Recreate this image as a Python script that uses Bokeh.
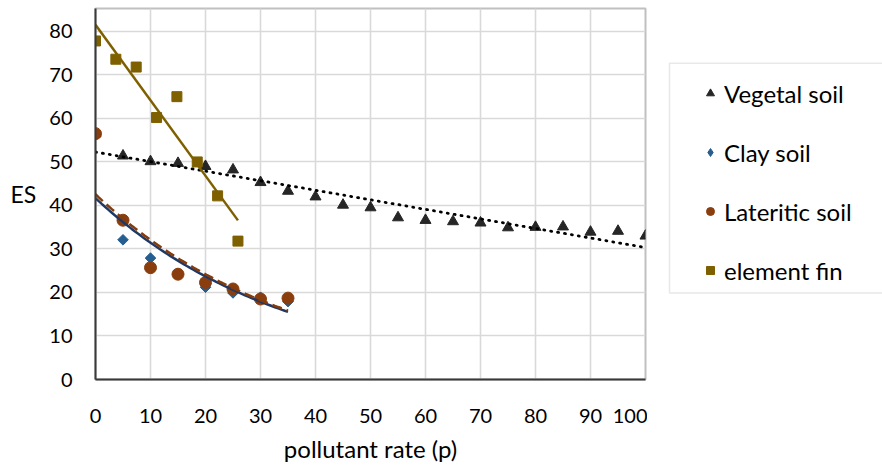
import numpy as np
from bokeh.plotting import figure
from bokeh.layouts import row
from bokeh.models import Range1d, FixedTicker, Legend, LegendItem, BoxAnnotation
from bokeh.embed import file_html
from bokeh.resources import INLINE

# ---- data ----
veg_x = [0, 5, 10, 15, 20, 25, 30, 35, 40, 45, 50, 55, 60, 65, 70, 75, 80, 85, 90, 95, 100]
veg_y = [56.5, 51.4, 50.1, 49.7, 49.0, 48.2, 45.3, 43.3, 42.0, 40.1, 39.5, 37.2, 36.6,
         36.3, 36.0, 34.9, 35.0, 35.1, 33.9, 34.1, 33.0]
clay_x = [0, 5, 10, 15, 20, 25, 30, 35]
clay_y = [56.5, 32.1, 27.9, 24.3, 21.2, 19.9, 18.9, 17.9]
lat_x = [0, 5, 10, 15, 20, 25, 30, 35]
lat_y = [56.5, 36.6, 25.7, 24.2, 22.3, 20.8, 18.5, 18.7]
fin_x = [0, 3.7, 7.4, 11.1, 14.8, 18.5, 22.2, 25.9]
fin_y = [77.8, 73.6, 71.8, 60.2, 65.0, 50.0, 42.2, 31.8]

x_ticks = [0, 10, 20, 30, 40, 50, 60, 70, 80, 90, 100]
y_ticks = [0, 10, 20, 30, 40, 50, 60, 70, 80]
series_names = ["Vegetal soil", "Clay soil", "Lateritic soil", "element fin"]
x_title = "pollutant rate (p)"
y_title = "ES"

FONT = "Lato"
styles = [
    dict(marker="triangle", size=11, color="#262626", angle=0.0),
    dict(marker="square", size=7.5, color="#255E91", angle=np.pi / 4),
    dict(marker="circle", size=12, color="#8A3E0E", angle=0.0),
    dict(marker="square", size=10, color="#7F6000", angle=0.0),
]
legend_styles = [
    dict(marker="triangle", size=11, color="#262626"),
    dict(marker="diamond", size=11, color="#255E91"),
    dict(marker="circle", size=12, color="#8A3E0E"),
    dict(marker="square", size=10, color="#7F6000"),
]
series_xy = [(veg_x, veg_y), (clay_x, clay_y), (lat_x, lat_y), (fin_x, fin_y)]

TOP, BOTTOM, FRAME_H = 8, 84, 373

# ================= main chart =================
p = figure(width=647, height=465, output_backend="svg", toolbar_location=None,
           x_range=Range1d(0, 100), y_range=Range1d(0, FRAME_H / 4.375),
           min_border_left=95, min_border_right=2, min_border_top=TOP, min_border_bottom=BOTTOM)
p.title = None
p.background_fill_color = "white"
p.border_fill_color = "white"
p.outline_line_color = "#c0c0c0"
p.outline_line_width = 2

for ax in (p.xaxis[0], p.yaxis[0]):
    ax.major_tick_line_color = None
    ax.minor_tick_line_color = None
    ax.axis_line_color = "#3a3a3a"
    ax.axis_line_width = 2
    ax.major_label_text_font = FONT
    ax.major_label_text_font_size = "20px"
    ax.major_label_text_color = "#000000"
    ax.axis_label_text_font = FONT
    ax.axis_label_text_font_style = "normal"
    ax.axis_label_text_color = "#000000"
p.xaxis[0].ticker = FixedTicker(ticks=x_ticks)
p.yaxis[0].ticker = FixedTicker(ticks=y_ticks)
p.xaxis[0].major_label_standoff = 23
p.yaxis[0].major_label_standoff = 17
p.xaxis[0].axis_label = x_title
p.xaxis[0].axis_label_text_font_size = "24px"
p.xaxis[0].axis_label_standoff = 8
p.yaxis[0].axis_label = y_title
p.yaxis[0].axis_label_text_font_size = "23px"
p.yaxis[0].axis_label_standoff = 10
try:
    p.yaxis[0].axis_label_orientation = "horizontal"
except Exception:
    pass

p.xgrid[0].ticker = FixedTicker(ticks=x_ticks)
p.ygrid[0].ticker = FixedTicker(ticks=y_ticks)
for g in (p.xgrid[0], p.ygrid[0]):
    g.grid_line_color = "#d9d9d9"
    g.grid_line_width = 1.6

# ---- markers ----
for (xs, ys), st in zip(series_xy, styles):
    p.scatter(xs, ys, **st)

# ---- trendlines (fitted from the series) ----
def lin_fit(xs, ys):
    a, b = np.polyfit(xs, ys, 1)
    xx = np.array([min(xs), max(xs)])
    return xx, a * xx + b

def exp_fit(xs, ys):
    b, lna = np.polyfit(xs, np.log(ys), 1)
    xx = np.linspace(min(xs), max(xs), 60)
    return xx, np.exp(lna) * np.exp(b * xx)

tx, ty = lin_fit(veg_x, veg_y)
p.line(tx, ty, line_color="#000000", line_width=2.8, line_dash="1 6", line_cap="round")
tx, ty = exp_fit(clay_x, clay_y)
p.line(tx, ty, line_color="#203864", line_width=2.5)
tx, ty = exp_fit(lat_x, lat_y)
p.line(tx, ty, line_color="#843C0C", line_width=2.5, line_dash="10 5")
tx, ty = lin_fit(fin_x, fin_y)
p.line(tx, ty, line_color="#7F6000", line_width=2.5)

# ================= legend panel (pixel-scaled frame) =================
X0 = -245  # frame spans X0 .. X0+235 so that series points lie outside it
q = figure(width=235, height=465, output_backend="svg", toolbar_location=None,
           x_range=Range1d(X0, X0 + 235), y_range=Range1d(0, FRAME_H),
           x_axis_location=None, y_axis_location=None,
           min_border_left=0, min_border_right=0, min_border_top=TOP, min_border_bottom=BOTTOM)
q.title = None
q.grid.visible = False
q.outline_line_color = None
q.background_fill_color = "white"
q.border_fill_color = "white"

# legend frame box: canvas x 669..(beyond edge), y 63..294
box_top = FRAME_H - (63 - TOP)
box_bottom = FRAME_H - (294 - TOP)
q.add_layout(BoxAnnotation(left=X0 + 22, right=X0 + 260, top=box_top, bottom=box_bottom,
                           fill_alpha=0.0, line_color="#b3b3b3", line_width=1.5))

legend_renderers = [q.scatter(xs, ys, **st) for (xs, ys), st in zip(series_xy, legend_styles)]
legend_h = 4 * 30 + 3 * 29
legend = Legend(
    items=[LegendItem(label=n, renderers=[r]) for n, r in zip(series_names, legend_renderers)],
    location=(22 + 31, FRAME_H - (63 + 17 - TOP) - legend_h), orientation="vertical",
    padding=0, spacing=29, margin=0,
    glyph_width=20, glyph_height=20, label_height=30, label_standoff=4,
    label_text_font=FONT, label_text_font_size="24px", label_text_color="#000000",
    border_line_color=None, background_fill_alpha=0.0)
q.add_layout(legend, "center")

layout = row(p, q)
open("out.html", "w").write(file_html(layout, INLINE))
